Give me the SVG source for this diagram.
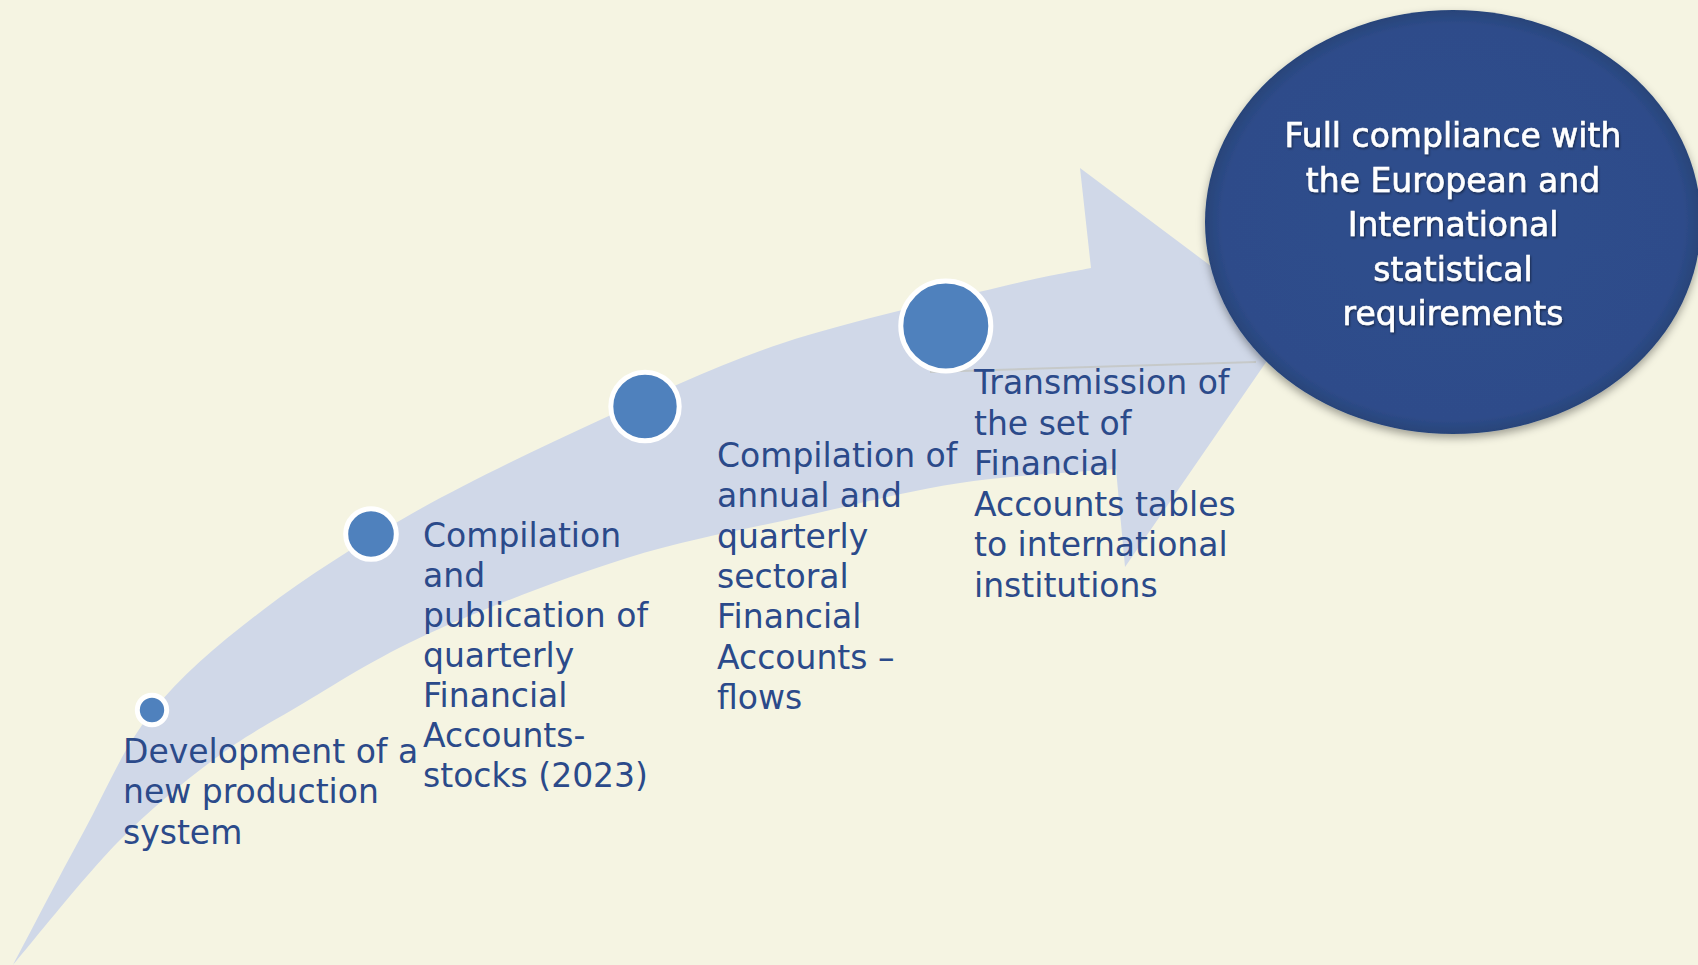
<svg xmlns="http://www.w3.org/2000/svg" width="1698" height="965" viewBox="0 0 1698 965">
  <defs>
    <style>
      .lbl { font-family: "DejaVu Sans", Verdana, sans-serif; font-size: 33px; fill: #2B4A8A; }
      .goal { font-family: "DejaVu Sans", Verdana, sans-serif; font-size: 33px; fill: #FFFFFF; stroke: #FFFFFF; stroke-width: 0.6; text-anchor: middle; }
      .dot { fill: #4F81BD; stroke: #FFFFFF; stroke-width: 5; }
      .band { fill: #D0D8E8; }
    </style>
    <radialGradient id="ellGrad" cx="50%" cy="50%" r="50%">
      <stop offset="0%" stop-color="#2F4E8D"/>
      <stop offset="93%" stop-color="#2E4C8A"/>
      <stop offset="100%" stop-color="#284479"/>
    </radialGradient>
    <filter id="shadow" x="-10%" y="-10%" width="130%" height="130%">
      <feDropShadow dx="0" dy="4" stdDeviation="4" flood-color="#000000" flood-opacity="0.35"/>
    </filter>
    <filter id="txtShadow" x="-5%" y="-20%" width="110%" height="140%">
      <feDropShadow dx="1" dy="1.5" stdDeviation="1" flood-color="#000000" flood-opacity="0.45"/>
    </filter>
  </defs>

  <rect id="background" x="0" y="0" width="1698" height="965" fill="#F5F4E2"/>

  <g id="connectors">
    <path id="big-arrow" class="band" d="M13,965
      C24.7,943 59.8,875.2 83,833
      C106.2,790.8 122,749.2 152,712
      C182,674.8 219.5,643.2 263,610
      C306.5,576.8 356.8,544.7 413,513
      C469.2,481.3 538.3,448.3 600,420
      C661.7,391.7 716.3,365.2 783,343
      C849.7,320.8 948.7,299.5 1000,287
      C1051.3,274.5 1075.8,271.2 1091,268
      L1080,168
      L1291,326
      L1125,567
      L1116,469
      C1090,471.3 1012.7,475 960,483
      C907.3,491 855.5,504.5 800,517
      C744.5,529.5 688.7,538.7 627,558
      C565.3,577.3 485,608.2 430,633
      C375,657.8 333.2,685.8 297,707
      C260.8,728.2 243,737.3 213,760
      C183,782.7 150.3,808.8 117,843
      C83.7,877.2 30.3,944.7 13,965 Z"/>
    <line id="faint-line" x1="930" y1="372" x2="1256" y2="362" stroke="#C4C6C2" stroke-width="2" opacity="0.8"/>
  </g>

  <g id="step1">
    <circle class="dot" cx="152" cy="710" r="14.7"/>
    <text class="lbl" x="123" y="763">Development of a<tspan x="123" dy="40.3">new production</tspan><tspan x="123" dy="40.3">system</tspan></text>
  </g>

  <g id="step2">
    <circle class="dot" cx="371" cy="534" r="25.3"/>
    <text class="lbl" x="423" y="547">Compilation<tspan x="423" dy="40">and</tspan><tspan x="423" dy="40">publication of</tspan><tspan x="423" dy="40">quarterly</tspan><tspan x="423" dy="40">Financial</tspan><tspan x="423" dy="40">Accounts-</tspan><tspan x="423" dy="40">stocks (2023)</tspan></text>
  </g>

  <g id="step3">
    <circle class="dot" cx="645" cy="406.5" r="34.2"/>
    <text class="lbl" x="717" y="467">Compilation of<tspan x="717" dy="40.3">annual and</tspan><tspan x="717" dy="40.3">quarterly</tspan><tspan x="717" dy="40.3">sectoral</tspan><tspan x="717" dy="40.3">Financial</tspan><tspan x="717" dy="40.3">Accounts –</tspan><tspan x="717" dy="40.3">flows</tspan></text>
  </g>

  <g id="step4">
    <circle class="dot" cx="945.8" cy="326" r="45"/>
    <text class="lbl" x="974" y="394">Transmission of<tspan x="974" dy="40.5">the set of</tspan><tspan x="974" dy="40.5">Financial</tspan><tspan x="974" dy="40.5">Accounts tables</tspan><tspan x="974" dy="40.5">to international</tspan><tspan x="974" dy="40.5">institutions</tspan></text>
  </g>

  <g id="goal">
    <ellipse cx="1453" cy="222" rx="248" ry="212" fill="url(#ellGrad)" filter="url(#shadow)"/>
    <text class="goal" x="1453" y="147" filter="url(#txtShadow)">Full compliance with<tspan x="1453" dy="44.6">the European and</tspan><tspan x="1453" dy="44.6">International</tspan><tspan x="1453" dy="44.6">statistical</tspan><tspan x="1453" dy="44.6">requirements</tspan></text>
  </g>
</svg>
